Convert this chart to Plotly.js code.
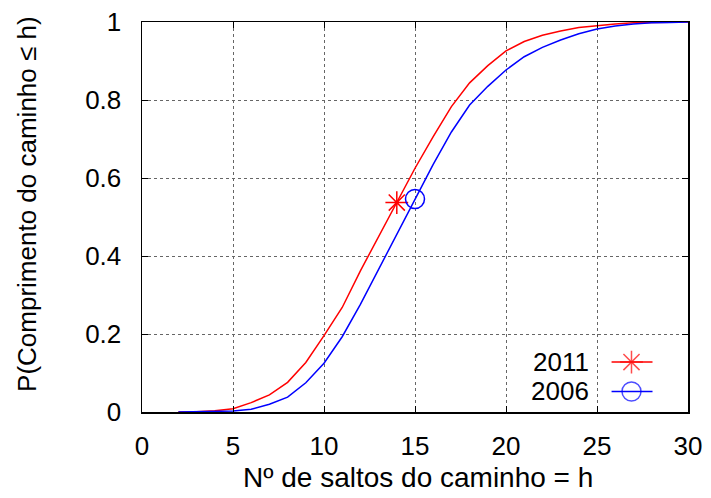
<!DOCTYPE html>
<html>
<head>
<meta charset="utf-8">
<script src="https://cdn.plot.ly/plotly-3.0.1.min.js"></script>
<style>html,body{margin:0;padding:0;background:#fff}#chart{width:711px;height:498px}</style>
</head>
<body>
<div id="chart"></div>
<script>
// Data
const hops = [2,3,4,5,6,7,8,9,10,11,12,13,14,15,16,17,18,19,20,21,22,23,24,25,26,27,28,29,30];
const p2011 = [0,0.0005,0.003,0.0085,0.024,0.044,0.076,0.127,0.196,0.268,0.362,0.449,0.537,0.625,0.706,0.783,0.844,0.888,0.926,0.950,0.966,0.977,0.986,0.991,0.995,0.998,0.999,1.0,1.0];
const p2006 = [0,0.0002,0.001,0.0025,0.007,0.020,0.038,0.075,0.125,0.193,0.276,0.365,0.453,0.546,0.635,0.718,0.787,0.835,0.877,0.911,0.935,0.954,0.970,0.982,0.990,0.995,0.998,0.999,1.0];
const mark2011 = 14;   // highlighted hop count, 2011
const mark2006 = 15;   // highlighted hop count, 2006
const seriesNames = ['2011','2006'];
const xTicks = [0,5,10,15,20,25,30];
const yTicks = [0,0.2,0.4,0.6,0.8,1];
const xTitle = 'Nº de saltos do caminho = h';
const yTitle = 'P(Comprimento do caminho ≤ h)';

const RED = '#ff0000', BLUE = '#0000ff';
const FONT = 'Liberation Sans, Arial, Helvetica, sans-serif';

const traces = [
  {x: hops, y: p2011, type:'scatter', mode:'lines', line:{color:RED, width:1.5}, hoverinfo:'skip'},
  {x: hops, y: p2006, type:'scatter', mode:'lines', line:{color:BLUE, width:1.5}, hoverinfo:'skip'},
  {x: [mark2011], y: [p2011[hops.indexOf(mark2011)]], type:'scatter', mode:'markers',
   marker:{symbol:'asterisk-open', size:19, color:RED, line:{color:RED, width:1.5}}},
  {x: [mark2006], y: [p2006[hops.indexOf(mark2006)]], type:'scatter', mode:'markers',
   marker:{symbol:'circle-open', size:19, color:BLUE, line:{color:BLUE, width:1.5}}},
  // legend samples drawn on an overlay axis spanning the plot area (0..1)
  {x:[0.86,0.8965,0.935], y:[0.128,0.128,0.128], xaxis:'x2', yaxis:'y2', type:'scatter', mode:'lines+markers',
   line:{color:RED, width:1.5}, marker:{symbol:'asterisk-open', size:[0,19,0], color:RED, line:{color:RED,width:1.5}}},
  {x:[0.86,0.8965,0.935], y:[0.0526,0.0526,0.0526], xaxis:'x2', yaxis:'y2', type:'scatter', mode:'lines+markers',
   line:{color:BLUE, width:1.5}, marker:{symbol:'circle-open', size:[0,19,0], color:BLUE, line:{color:BLUE,width:1.5}}}
];

const layout = {
  width:711, height:498,
  margin:{l:142, r:23, t:22, b:86},
  paper_bgcolor:'#fff', plot_bgcolor:'#fff',
  showlegend:false,
  font:{family:FONT, size:26, color:'#000'},
  xaxis:{
    range:[0,30], tickvals:xTicks, ticktext:xTicks.map(String),
    ticks:'inside', ticklen:6, tickwidth:1, tickcolor:'#000',
    showline:true, linecolor:'#000', linewidth:1.5, mirror:'ticks',
    showgrid:true, gridcolor:'#666', gridwidth:1, griddash:'dot',
    zeroline:false, ticklabelstandoff:10
  },
  yaxis:{
    range:[0,1], tickvals:yTicks, ticktext:yTicks.map(String),
    ticks:'inside', ticklen:6, tickwidth:1, tickcolor:'#000',
    showline:true, linecolor:'#000', linewidth:1.5, mirror:'ticks',
    showgrid:true, gridcolor:'#666', gridwidth:1, griddash:'dot',
    zeroline:false, ticklabelstandoff:14
  },
  xaxis2:{overlaying:'x', range:[0,1], visible:false, fixedrange:true},
  yaxis2:{overlaying:'y', range:[0,1], visible:false, fixedrange:true},
  annotations:[
    {xref:'paper', yref:'paper', x:0.823, y:0.128, xanchor:'right', yanchor:'middle', text:seriesNames[0], showarrow:false, font:{family:FONT,size:26}},
    {xref:'paper', yref:'paper', x:0.823, y:0.0526, xanchor:'right', yanchor:'middle', text:seriesNames[1], showarrow:false, font:{family:FONT,size:26}},
    {xref:'paper', yref:'paper', x:0.506, y:-0.167, xanchor:'center', yanchor:'middle', text:xTitle, showarrow:false, font:{family:FONT,size:28}},
    {xref:'paper', yref:'paper', x:-0.211, y:0.533, xanchor:'center', yanchor:'middle', textangle:-90, text:yTitle, showarrow:false, font:{family:FONT,size:26}}
  ]
};

Plotly.newPlot('chart', traces, layout, {staticPlot:true, displayModeBar:false});
</script>
</body>
</html>
